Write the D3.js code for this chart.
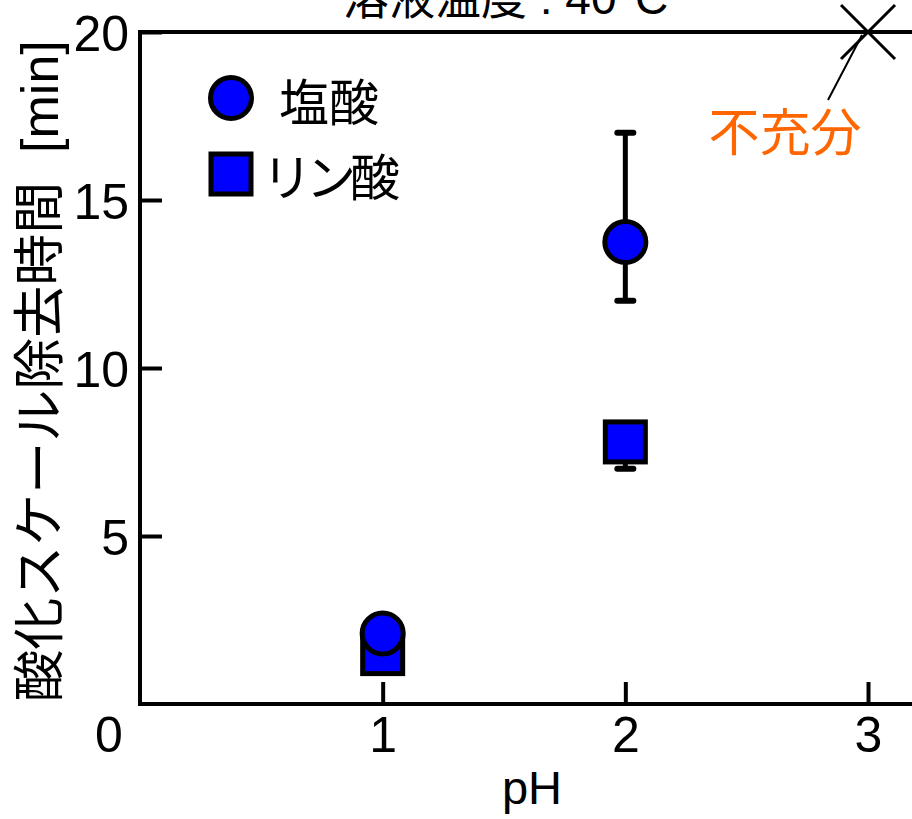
<!DOCTYPE html>
<html>
<head>
<meta charset="utf-8">
<script src="https://cdn.jsdelivr.net/npm/d3@7"></script>
<style>
  html, body { margin: 0; padding: 0; background: #fff; }
  svg { display: block; }
  text { font-family: "Liberation Sans", Arial, "Noto Sans CJK JP", sans-serif; fill: #000; white-space: pre; }
</style>
</head>
<body>
<svg id="chart" width="912" height="819"></svg>
<script>
// pH values where measurements were taken
const pHValues = [1, 2];

// Hydrochloric acid (塩酸): removal time [min] with error range
const hclMean = [2.1, 13.75];
const hclLow  = [2.1, 12.0];
const hclHigh = [2.1, 17.0];

// Phosphoric acid (リン酸): removal time [min] with error range
const phosMean = [1.5, 7.8];
const phosLow  = [1.5, 7.0];
const phosHigh = [1.5, 8.2];

// Insufficient removal marker (不充分)
const insufficientPH = [3];
const insufficientTime = [20];

const xTicks = [1, 2, 3];
const yTicks = [5, 10, 15, 20];

const svg = d3.select("#chart");

const x = d3.scaleLinear().domain([0, 3.25]).range([140, 140 + 3.25 * 242.67]);
const y = d3.scaleLinear().domain([0, 20]).range([704, 32]);

const BLUE = "#0000ff";
const ORANGE = "#ff6600";
const NUM_FONT = "50px";

// Title (partly above the top edge)
svg.append("text")
  .attr("x", 343).attr("y", 14)
  .attr("text-anchor", "start")
  .style("font-size", "46px")
  .text("溶液温度 : 40°C");

// Plot frame
svg.append("rect")
  .attr("x", x(0)).attr("y", y(20))
  .attr("width", x(3.25) - x(0)).attr("height", y(0) - y(20))
  .attr("fill", "none").attr("stroke", "#000").attr("stroke-width", 4);

// Axes with inward ticks
const xAxis = svg.append("g")
  .attr("transform", `translate(0,${y(0)})`)
  .call(d3.axisBottom(x).tickValues(xTicks).tickSize(-22).tickFormat(d3.format("d")));
xAxis.select(".domain").remove();
xAxis.selectAll(".tick line").attr("stroke", "#000").attr("stroke-width", 4);
xAxis.selectAll(".tick text")
  .attr("y", 30).attr("dy", "0.36em")
  .style("font-size", NUM_FONT).style("font-family", "Liberation Sans, Arial, sans-serif");

const yAxis = svg.append("g")
  .attr("transform", `translate(${x(0)},0)`)
  .call(d3.axisLeft(y).tickValues(yTicks).tickSize(-22).tickFormat(d3.format("d")));
yAxis.select(".domain").remove();
yAxis.selectAll(".tick line").attr("stroke", "#000").attr("stroke-width", 4);
yAxis.selectAll(".tick text")
  .attr("x", -11).attr("dy", "0.36em")
  .style("font-size", NUM_FONT).style("font-family", "Liberation Sans, Arial, sans-serif");

// Shared origin label
svg.append("text")
  .attr("x", 109).attr("y", 734).attr("dy", "0.36em")
  .attr("text-anchor", "middle")
  .style("font-size", NUM_FONT)
  .text("0");

// Axis titles
svg.append("text")
  .attr("x", 532).attr("y", 804)
  .attr("text-anchor", "middle")
  .style("font-size", "47px")
  .text("pH");

svg.append("text")
  .attr("transform", `translate(58,371) rotate(-90)`)
  .attr("text-anchor", "middle")
  .style("font-size", "52px")
  .text("酸化スケール除去時間  [min]");

// Error bars
function errorBars(lows, highs) {
  const g = svg.append("g");
  pHValues.forEach((p, i) => {
    if (highs[i] === lows[i]) return;
    g.append("line")
      .attr("x1", x(p)).attr("x2", x(p))
      .attr("y1", y(lows[i])).attr("y2", y(highs[i]))
      .attr("stroke", "#000").attr("stroke-width", 5);
    [lows[i], highs[i]].forEach(v => {
      g.append("line")
        .attr("x1", x(p) - 8).attr("x2", x(p) + 8)
        .attr("y1", y(v)).attr("y2", y(v))
        .attr("stroke", "#000").attr("stroke-width", 6)
        .attr("stroke-linecap", "round");
    });
  });
}
errorBars(phosLow, phosHigh);
errorBars(hclLow, hclHigh);

// Phosphoric acid squares
const SQ = 40;
svg.append("g").selectAll("rect")
  .data(pHValues.map((p, i) => ({ p, v: phosMean[i] })))
  .join("rect")
  .attr("x", d => x(d.p) - SQ / 2).attr("y", d => y(d.v) - SQ / 2)
  .attr("width", SQ).attr("height", SQ)
  .attr("fill", BLUE).attr("stroke", "#000").attr("stroke-width", 5);

// Hydrochloric acid circles
svg.append("g").selectAll("circle")
  .data(pHValues.map((p, i) => ({ p, v: hclMean[i] })))
  .join("circle")
  .attr("cx", d => x(d.p)).attr("cy", d => y(d.v))
  .attr("r", 20.5)
  .attr("fill", BLUE).attr("stroke", "#000").attr("stroke-width", 5);

// Insufficient marker (cross) with annotation
insufficientPH.forEach((p, i) => {
  const cx = x(p), cy = y(insufficientTime[i]), s = 27;
  svg.append("path")
    .attr("d", `M${cx - s},${cy - s}L${cx + s},${cy + s}M${cx - s},${cy + s}L${cx + s},${cy - s}`)
    .attr("stroke", "#000").attr("stroke-width", 3).attr("fill", "none");
  svg.append("line")
    .attr("x1", cx - 40).attr("y1", cy + 68)
    .attr("x2", cx - 6).attr("y2", cy + 3)
    .attr("stroke", "#000").attr("stroke-width", 2);
  svg.append("text")
    .attr("x", cx - 83).attr("y", cy + 101)
    .attr("dy", "0.36em")
    .attr("text-anchor", "middle")
    .style("font-size", "51px")
    .style("fill", ORANGE)
    .text("不充分");
});

// Legend
const legend = svg.append("g");
legend.append("circle")
  .attr("cx", 231).attr("cy", 98).attr("r", 20.5)
  .attr("fill", BLUE).attr("stroke", "#000").attr("stroke-width", 5);
legend.append("text")
  .attr("x", 279).attr("y", 103).attr("dy", "0.36em")
  .style("font-size", "50px")
  .text("塩酸");
legend.append("rect")
  .attr("x", 231 - SQ / 2).attr("y", 174 - SQ / 2).attr("width", SQ).attr("height", SQ)
  .attr("fill", BLUE).attr("stroke", "#000").attr("stroke-width", 5);
legend.append("text")
  .attr("x", 262).attr("y", 178).attr("dy", "0.36em")
  .attr("letter-spacing", "-6px")
  .style("font-size", "50px")
  .text("リン酸");
</script>
</body>
</html>
